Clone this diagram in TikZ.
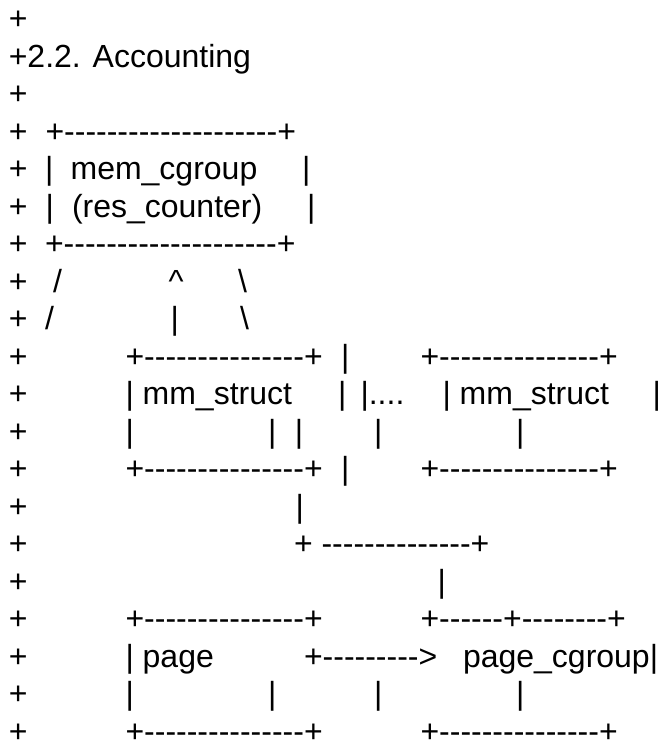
\documentclass[tikz,border=0pt]{standalone}
\usepackage{fontspec}
\setmainfont{Liberation Sans}[Ligatures=TeXOff]
\ExplSyntaxOn
\cs_new:Npn \dashrun #1 {\prg_replicate:nn{#1}{-}}
\ExplSyntaxOff
% one text segment: name, x, line number, text
\newcommand\asc[4]{\node[txt] (#1) at (#2,{29.5+37.5*(#3-1)}) {#4};}
\tikzset{
  txt/.style={anchor=base west, inner sep=0pt, outer sep=0pt,
    font=\fontsize{32}{38}\selectfont, text=black}
}
\begin{document}
\begin{tikzpicture}[x=1pt, y=-1pt]
\useasboundingbox[fill=white] (0,0) rectangle (661,744);
% leading diff markers
\foreach \i in {1,3,4,...,20} {\asc{p\i}{8.8}{\i}{+}}
\asc{title}{8.8}{2}{+2.2. Accounting}
% mem_cgroup box
\asc{mtop}{45.5}{4}{+\dashrun{20}+}
\asc{ml}{45.1}{5}{|}
\asc{mname}{70.6}{5}{mem\_cgroup}
\asc{mr}{302}{5}{|}
\asc{rl}{45.6}{6}{|}
\asc{rname}{72}{6}{(res\_counter)}
\asc{rr}{307}{6}{|}
\asc{mbot}{45}{7}{+\dashrun{20}+}
% links below mem_cgroup
\asc{sa}{53}{8}{/}
\asc{up}{168.5}{8}{\textasciicircum}
\asc{ba}{238}{8}{\textbackslash}
\asc{sb}{45}{9}{/}
\asc{upb}{170.5}{9}{|}
\asc{bb}{240}{9}{\textbackslash}
% mm_struct boxes
\asc{atop}{125.5}{10}{+\dashrun{15}+}
\asc{va}{341}{10}{|}
\asc{btop}{420.5}{10}{+\dashrun{15}+}
\asc{aname}{125.5}{11}{| mm\_struct}
\asc{ar}{338}{11}{|}
\asc{dots}{360.5}{11}{|....}
\asc{bname}{442.5}{11}{| mm\_struct}
\asc{br}{652.5}{11}{|}
\asc{al}{125.5}{12}{|}
\asc{ar2}{268}{12}{|}
\asc{vb}{294.8}{12}{|}
\asc{bl}{374}{12}{|}
\asc{br2}{516}{12}{|}
\asc{abot}{125.5}{13}{+\dashrun{15}+}
\asc{vc}{341}{13}{|}
\asc{bbot}{420.5}{13}{+\dashrun{15}+}
% link down to page_cgroup
\asc{vd}{295.5}{14}{|}
\asc{turn}{294}{15}{+ \dashrun{14}+}
\asc{ve}{437.5}{16}{|}
% page and page_cgroup boxes
\asc{ptop}{125.5}{17}{+\dashrun{15}+}
\asc{qtop}{420.5}{17}{+\dashrun{6}+\dashrun{8}+}
\asc{pname}{125.5}{18}{| page}
\asc{arrow}{304}{18}{+\dashrun{9}>}
\asc{qname}{463}{18}{page\_cgroup|}
\asc{pl}{125.5}{19}{|}
\asc{pr}{268}{19}{|}
\asc{ql}{374}{19}{|}
\asc{qr}{516}{19}{|}
\asc{pbot}{125.5}{20}{+\dashrun{15}+}
\asc{qbot}{420.5}{20}{+\dashrun{15}+}
\end{tikzpicture}
\end{document}
